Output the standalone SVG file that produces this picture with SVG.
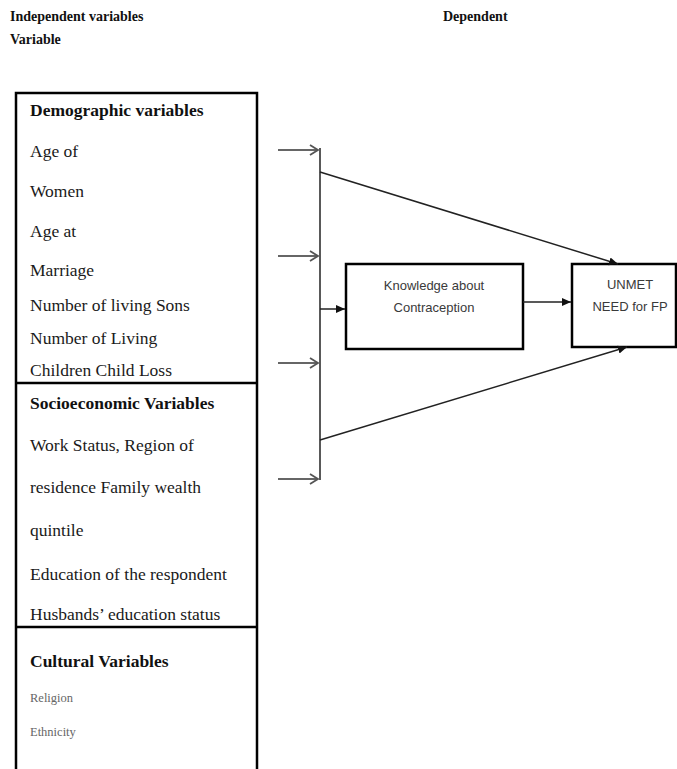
<svg xmlns="http://www.w3.org/2000/svg" width="677" height="769" viewBox="0 0 677 769">
<style>
.hd{font-family:"Liberation Serif",serif;font-weight:bold;font-size:14px;fill:#111}
.sh{font-family:"Liberation Serif",serif;font-weight:bold;font-size:17.5px;fill:#111}
.it{font-family:"Liberation Serif",serif;font-size:17.5px;fill:#1a1a1a}
.sm{font-family:"Liberation Serif",serif;font-size:12.5px;fill:#666}
.bx{fill:none;stroke:#000;stroke-width:2.5}
.sans{font-family:"Liberation Sans",sans-serif;font-size:13px;fill:#3a3a3a;text-anchor:middle}
.in{stroke:#666;stroke-width:2;fill:none}
.ln{stroke:#222;stroke-width:1.5;fill:none}
</style>
<defs>
<marker id="open" markerWidth="12" markerHeight="12" refX="9" refY="6" orient="auto" markerUnits="userSpaceOnUse">
<path d="M1,1 L9,6 L1,11" fill="none" stroke="#555" stroke-width="1.8"/>
</marker>
<marker id="fill" markerWidth="10" markerHeight="10" refX="9" refY="5" orient="auto" markerUnits="userSpaceOnUse">
<path d="M0,1 L9,5 L0,9 Z" fill="#111"/>
</marker>
</defs>
<g id="headers">
<text class="hd" x="10" y="21">Independent variables</text>
<text class="hd" x="10" y="44">Variable</text>
<text class="hd" x="443" y="21">Dependent</text>
</g>
<g id="independent-box">
<path class="bx" d="M16,775 L16,93 L257,93 L257,775"/>
<line class="bx" x1="16" y1="383" x2="257" y2="383"/>
<line class="bx" x1="16" y1="627" x2="257" y2="627"/>
</g>
<g id="demographic">
<text class="sh" x="30" y="116">Demographic variables</text>
<text class="it" x="30" y="157">Age of</text>
<text class="it" x="30" y="197">Women</text>
<text class="it" x="30" y="237">Age at</text>
<text class="it" x="30" y="276">Marriage</text>
<text class="it" x="30" y="311">Number of living Sons</text>
<text class="it" x="30" y="344">Number of Living</text>
<text class="it" x="30" y="376">Children Child Loss</text>
</g>
<g id="socioeconomic">
<text class="sh" x="30" y="409">Socioeconomic Variables</text>
<text class="it" x="30" y="451">Work Status, Region of</text>
<text class="it" x="30" y="493">residence Family wealth</text>
<text class="it" x="30" y="536">quintile</text>
<text class="it" x="30" y="580">Education of the respondent</text>
<text class="it" x="30" y="620">Husbands’ education status</text>
</g>
<g id="cultural">
<text class="sh" x="30" y="667">Cultural Variables</text>
<text class="sm" x="30" y="702">Religion</text>
<text class="sm" x="30" y="736">Ethnicity</text>
</g>
<g id="knowledge">
<rect class="bx" x="346" y="264" width="177" height="85"/>
<text class="sans" x="434" y="290">Knowledge about</text>
<text class="sans" x="434" y="312">Contraception</text>
</g>
<g id="unmet">
<rect class="bx" x="572" y="264" width="104" height="83"/>
<text class="sans" x="630" y="289">UNMET</text>
<text class="sans" x="630" y="311">NEED for FP</text>
</g>
<g id="connectors">
<line class="ln" x1="320" y1="148" x2="320" y2="480"/>
<line class="in" x1="278" y1="150" x2="318" y2="150" marker-end="url(#open)"/>
<line class="in" x1="278" y1="256" x2="318" y2="256" marker-end="url(#open)"/>
<line class="in" x1="278" y1="363" x2="318" y2="363" marker-end="url(#open)"/>
<line class="in" x1="278" y1="479" x2="318" y2="479" marker-end="url(#open)"/>
<line class="ln" x1="320" y1="309" x2="345" y2="309" marker-end="url(#fill)"/>
<line class="ln" x1="523" y1="302" x2="571" y2="302" marker-end="url(#fill)"/>
<line class="ln" x1="320" y1="172" x2="618" y2="264" marker-end="url(#fill)"/>
<line class="ln" x1="320" y1="440" x2="627" y2="347" marker-end="url(#fill)"/>
</g>
</svg>
